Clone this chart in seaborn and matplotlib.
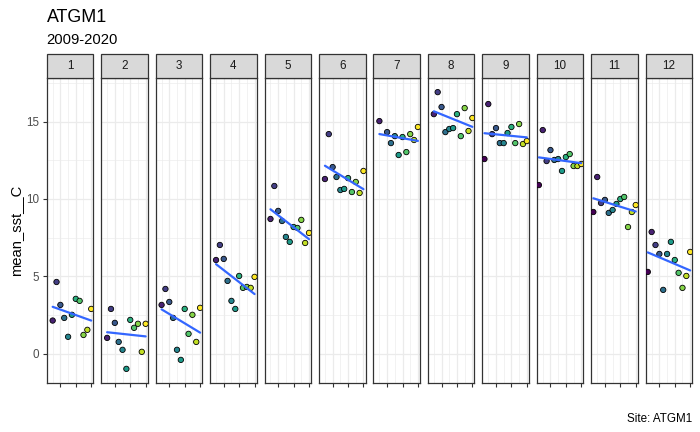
import numpy as np
import pandas as pd
import matplotlib
matplotlib.use("Agg")
import matplotlib.pyplot as plt
import seaborn as sns
from matplotlib.patches import Rectangle

nan = np.nan
years = list(range(2009, 2021))
months = list(range(1, 13))

m01 = [nan, 2.15, 4.64, 3.16, 2.32, 1.10, 2.52, 3.55, 3.42, 1.22, 1.55, 2.90]
m02 = [nan, 1.03, 2.90, 2.00, 0.77, 0.26, -0.97, 2.19, 1.68, 1.94, 0.13, 1.94]
m03 = [nan, 3.16, 4.19, 3.35, 2.32, 0.26, -0.39, 2.90, 1.29, 2.52, 0.77, 2.97]
m04 = [nan, 6.06, 7.03, 6.13, 4.71, 3.42, 2.90, 5.03, 4.26, 4.32, 4.26, 4.97]
m05 = [nan, 8.71, 10.84, 9.23, 8.58, 7.55, 7.23, 8.19, 8.13, 8.65, 7.16, 7.81]
m06 = [nan, 11.29, 14.19, 12.06, 11.42, 10.58, 10.65, 11.35, 10.45, 11.10, 10.39, 11.81]
m07 = [nan, 15.03, nan, 14.32, 13.61, 14.06, 12.84, 14.00, 13.03, 14.19, 13.81, 14.65]
m08 = [nan, 15.48, 16.90, 15.94, 14.32, 14.52, 14.58, 15.48, 14.06, 15.87, 14.39, 15.23]
m09 = [12.58, 16.13, 14.19, 14.58, 13.61, 13.61, 14.26, 14.65, 13.61, 14.84, 13.55, 13.74]
m10 = [10.90, 14.45, 12.45, 13.16, 12.52, 12.58, 11.81, 12.71, 12.90, 12.13, 12.13, 12.26]
m11 = [9.16, 11.42, 9.74, 9.94, 9.10, 9.29, 9.68, 10.00, 10.13, 8.19, 9.16, 9.61]
m12 = [5.29, 7.87, 7.03, 6.45, 4.13, 6.45, 7.23, 6.06, 5.23, 4.26, 5.03, 6.58]

series = [m01, m02, m03, m04, m05, m06, m07, m08, m09, m10, m11, m12]

title = "ATGM1"
subtitle = "2009-2020"
caption = "Site: ATGM1"
ylabel = "mean_sst__C"

rows = []
for m, vals in zip(months, series):
    for y, v in zip(years, vals):
        if not np.isnan(v):
            rows.append({"month": m, "year": y, "sst": v})
df = pd.DataFrame(rows)

sns.set_theme(style="white")
plt.rcParams["font.family"] = ["Liberation Sans", "DejaVu Sans"]

W, H = 700, 432
fig, axes = plt.subplots(1, 12, figsize=(7.0, 4.32), dpi=100, sharey=True)
left_px, right_px, top_px, bot_px = 46.7, 692.3, 78.3, 382.7
fig.subplots_adjust(left=left_px / W, right=right_px / W,
                    top=1 - top_px / H, bottom=1 - bot_px / H, wspace=0.168)

ymin, ymax = df["sst"].min(), df["sst"].max()
yr = ymax - ymin
ylo, yhi = ymin - 0.05 * yr, ymax + 0.05 * yr
xlo, xhi = min(years) - 0.05 * (max(years) - min(years)), max(years) + 0.05 * (max(years) - min(years))

strip_h = 24.0 / (bot_px - top_px)

for i, (ax, m) in enumerate(zip(axes, months)):
    d = df[df["month"] == m]
    sns.scatterplot(data=d, x="year", y="sst", hue="year", palette="viridis",
                    hue_norm=(min(years), max(years)), s=15, edgecolor="black",
                    linewidth=0.6, legend=False, ax=ax, zorder=3)
    sns.regplot(data=d, x="year", y="sst", scatter=False, ci=None,
                color="#3366FF", line_kws={"lw": 1.6, "zorder": 4}, ax=ax)
    ax.set_xlim(xlo, xhi)
    ax.set_ylim(ylo, yhi)
    ax.set_xticks([2012, 2016, 2020])
    ax.set_xticks([2010, 2014, 2018], minor=True)
    ax.set_xticklabels([])
    ax.set_yticks([0, 5, 10, 15])
    ax.set_yticks([2.5, 7.5, 12.5, 17.5], minor=True)
    ax.set_xlabel("")
    ax.set_ylabel("")
    ax.grid(which="major", color="#EBEBEB", lw=0.9)
    ax.grid(which="minor", color="#EBEBEB", lw=0.45)
    ax.set_axisbelow(True)
    for sp in ax.spines.values():
        sp.set_color("#333333")
        sp.set_linewidth(0.9)
        sp.set_visible(True)
    ax.tick_params(axis="x", which="major", bottom=True, length=2.7, width=0.8,
                   color="#333333", labelbottom=False)
    ax.tick_params(axis="x", which="minor", bottom=False)
    ax.tick_params(axis="y", which="minor", left=False)
    if i == 0:
        ax.tick_params(axis="y", which="major", left=True, length=2.7, width=0.8,
                       color="#333333", labelsize=8.4, labelcolor="#4D4D4D", pad=3.0)
    else:
        ax.tick_params(axis="y", which="major", left=False, labelleft=False)
    ax.add_patch(Rectangle((0, 1), 1, strip_h, transform=ax.transAxes, clip_on=False,
                           facecolor="#D9D9D9", edgecolor="#333333", lw=0.9, zorder=5))
    ax.text(0.5, 1 + strip_h / 2, str(m), transform=ax.transAxes, ha="center",
            va="center", fontsize=8.4, color="#1A1A1A", zorder=6)

fig.text(left_px / W, 1 - 21.7 / H, title, fontsize=12.9, color="black",
         ha="left", va="baseline")
fig.text(left_px / W, 1 - 44.3 / H, subtitle, fontsize=10.6, color="black",
         ha="left", va="baseline")
fig.text(right_px / W, 1 - 421.7 / H, caption, fontsize=8.4, color="black",
         ha="right", va="baseline")
fig.text(16.5 / W, 1 - ((top_px + bot_px) / 2) / H, ylabel, rotation=90,
         fontsize=10.6, color="black", ha="center", va="center")

fig.savefig("out.png", dpi=100)
